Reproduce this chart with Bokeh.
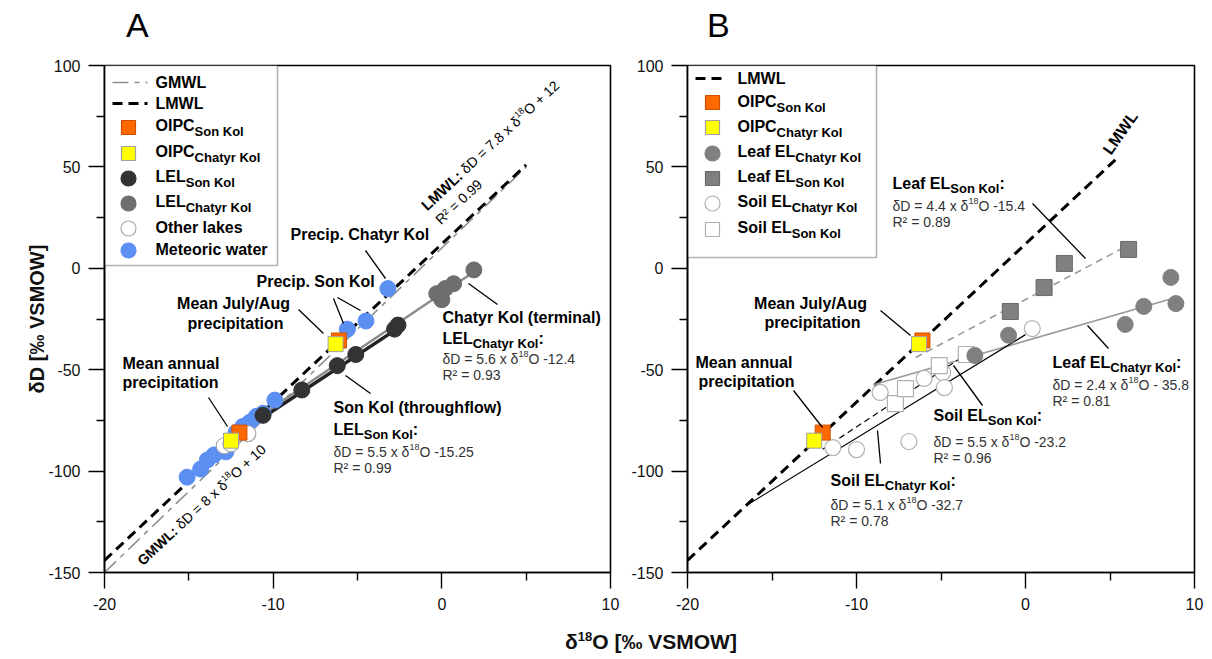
import math
from bokeh.plotting import figure
from bokeh.models import Label, BoxAnnotation, Div, Range1d, FixedTicker, PrintfTickFormatter
from bokeh.layouts import row, column
from bokeh.embed import file_html
from bokeh.resources import INLINE

FONT = "Liberation Sans"

# ---------------- Panel A data ----------------
meteoric_x = [-15.1, -14.3, -13.9, -13.5, -12.8, -12.2, -11.8, -11.4, -11.0, -10.6, -9.9, -5.6, -4.5, -3.2]
meteoric_y = [-103, -99, -94.5, -92, -90.5, -81, -78, -76, -73, -71.5, -65, -30, -26, -10]
lel_son_x = [-10.6, -8.3, -6.2, -5.1, -2.8, -2.6]
lel_son_y = [-72.5, -60, -48, -42.5, -30, -28]
lel_chatyr_x = [-0.3, 0.0, 0.2, 0.7, 1.9]
lel_chatyr_y = [-12.5, -15.5, -10, -7.6, -0.8]
other_x = [-12.9, -12.5, -11.5]
other_y = [-87.5, -86.5, -81.5]
oipc_son_x = [-12.0, -6.1]
oipc_son_y = [-81, -35.6]
oipc_chatyr_x = [-12.5, -6.3]
oipc_chatyr_y = [-85, -37.4]

# regression / meteoric water lines: slope, intercept, x extent
gmwl_slope, gmwl_int, gmwl_xA = 8.0, 10.0, [-20, 5]
lmwl_slope, lmwl_int, lmwl_xA = 7.8, 12.0, [-20, 5]
lel_son_slope, lel_son_int, lel_son_xl = 5.5, -15.25, [-12.8, -2.5]
lel_chat_slope, lel_chat_int, lel_chat_xl = 5.6, -12.4, [-12.0, 2.0]

# ---------------- Panel B data ----------------
leaf_son_x = [-0.9, 1.1, 2.3, 6.1]
leaf_son_y = [-21.3, -9.5, 2.4, 9.3]
leaf_chatyr_x = [-3.0, -1.0, 5.9, 7.0, 8.6, 8.9]
leaf_chatyr_y = [-43, -33, -27.7, -18.8, -4.5, -17.4]
soil_chatyr_x = [-11.4, -10.0, -8.6, -6.9, -6.0, -4.9, -4.8, 0.4]
soil_chatyr_y = [-88.4, -89.4, -61.2, -85.4, -54.3, -51.4, -58.8, -29.7]
soil_son_x = [-7.7, -7.1, -5.1, -3.5]
soil_son_y = [-66.7, -59.3, -48, -42.5]

lmwl_xB = [-20, 5.5]
leaf_son_slope, leaf_son_int, leaf_son_xl = 4.4, -15.4, [-6.5, 6.0]
leaf_chat_slope, leaf_chat_int, leaf_chat_xl = 2.4, -35.8, [-9.0, 9.0]
soil_chat_slope, soil_chat_int, soil_chat_xl = 5.1, -32.7, [-16.4, 0.0]
soil_son_slope, soil_son_int, soil_son_xl = 5.5, -23.2, [-12.0, -3.5]

X_TICKS = [-20, -10, 0, 10]
X_MINOR = [-15, -5, 5]
Y_TICKS = [-150, -100, -50, 0, 50, 100]
Y_MINOR = [-125, -75, -25, 25, 75]
XR = (-20, 10)
YR = (-150, 100)

def line_y(slope, intercept, xs):
    return [slope * x + intercept for x in xs]

# ---------------- styles ----------------
S_ORANGE = dict(marker="square", fill_color="#FF6A00", line_color="#D05000")
S_YELLOW = dict(marker="square", fill_color="#FFFF00", line_color="#A0A0A0")
S_DARK = dict(marker="circle", fill_color="#333333", line_color="#333333")
S_GRAY = dict(marker="circle", fill_color="#6E6E6E", line_color="#6E6E6E")
S_WHITE = dict(marker="circle", fill_color="white", line_color="#A8A8A8")
S_BLUE = dict(marker="circle", fill_color="#5C8FF2", line_color="#5C8FF2")
S_LEAF_C = dict(marker="circle", fill_color="#808080", line_color="#808080")
S_LEAF_S = dict(marker="square", fill_color="#808080", line_color="#6A6A6A")
S_SOIL_C = dict(marker="circle", fill_color="white", line_color="#B0B0B0")
S_SOIL_S = dict(marker="square", fill_color="white", line_color="#B0B0B0")

L_GMWL = dict(line_color="#8C8C8C", line_width=1.5, line_dash="16 6 5 6")
L_LMWL = dict(line_color="black", line_width=3, line_dash="10 6")
L_SON = dict(line_color="#222222", line_width=3.5)
L_CHAT = dict(line_color="#8C8C8C", line_width=2.5)
L_LEAF_S = dict(line_color="#9A9A9A", line_width=1.6, line_dash="7 5")
L_LEAF_C = dict(line_color="#9A9A9A", line_width=1.6)
L_SOIL_C = dict(line_color="black", line_width=1.2)
L_SOIL_S = dict(line_color="black", line_width=1.2, line_dash="6 4")

# ---------------- text metrics (Arial-like) ----------------
_REG = {' ': 278, '(': 333, ')': 333, '+': 584, '-': 333, '.': 278, '/': 278, ':': 278, '=': 584,
        '²': 333, 'δ': 556,
        'A': 667, 'B': 667, 'C': 722, 'D': 722, 'E': 667, 'F': 611, 'G': 778, 'H': 722, 'I': 278,
        'K': 667, 'L': 556, 'M': 833, 'N': 722, 'O': 778, 'P': 667, 'R': 722, 'S': 667, 'V': 667, 'W': 944,
        'a': 556, 'b': 556, 'c': 500, 'd': 556, 'e': 556, 'f': 278, 'g': 556, 'h': 556, 'i': 222,
        'k': 500, 'l': 222, 'm': 833, 'n': 556, 'o': 556, 'p': 556, 'r': 333, 's': 500, 't': 278,
        'u': 556, 'v': 500, 'w': 722, 'x': 500, 'y': 500}
_BOLD = {' ': 278, '(': 333, ')': 333, '-': 333, '.': 278, '/': 278, ':': 333,
         'A': 722, 'C': 722, 'D': 722, 'E': 667, 'G': 778, 'I': 278, 'K': 722, 'L': 611, 'M': 833,
         'O': 778, 'P': 667, 'S': 667, 'W': 944,
         'a': 556, 'c': 556, 'e': 556, 'f': 333, 'g': 611, 'h': 611, 'i': 278, 'k': 556, 'l': 278,
         'm': 889, 'n': 611, 'o': 611, 'p': 611, 'r': 389, 's': 556, 't': 333, 'u': 611, 'w': 778, 'y': 556}

def tw(s, size, bold):
    t = _BOLD if bold else _REG
    return sum(t.get(c, 556) for c in s) * size / 1000.0

# ---------------- figures ----------------
FA = dict(left=104, top=65, w=506, h=507)   # page pixel frame of panel A
FB = dict(left=687, top=65, w=507, h=507)   # page pixel frame of panel B

def d(F, px, py):
    x = XR[0] + (px - F["left"]) / F["w"] * (XR[1] - XR[0])
    y = YR[1] - (py - F["top"]) / F["h"] * (YR[1] - YR[0])
    return x, y

def make_fig(width, left, right):
    p = figure(width=width, height=575, x_range=Range1d(*XR), y_range=Range1d(*YR),
               output_backend="svg", toolbar_location=None,
               min_border_left=left, min_border_right=right, min_border_top=20, min_border_bottom=48)
    p.xgrid.visible = False
    p.ygrid.visible = False
    p.outline_line_color = "black"
    p.outline_line_width = 1.6
    p.outline_line_alpha = 1.0
    p.background_fill_color = "white"
    p.border_fill_color = "white"
    p.xaxis.ticker = FixedTicker(ticks=X_TICKS, minor_ticks=X_MINOR)
    p.yaxis.ticker = FixedTicker(ticks=Y_TICKS, minor_ticks=Y_MINOR)
    for ax in (p.xaxis[0], p.yaxis[0]):
        ax.formatter = PrintfTickFormatter(format="%d")
        ax.axis_line_color = "black"
        ax.axis_line_width = 1.6
        ax.major_tick_line_color = "black"
        ax.major_tick_line_width = 1.4
        ax.minor_tick_line_color = "black"
        ax.minor_tick_line_width = 1.4
        ax.major_tick_in = 0
        ax.major_tick_out = 16
        ax.minor_tick_in = 0
        ax.minor_tick_out = 8
        ax.major_label_text_font = FONT
        ax.major_label_text_font_size = "16px"
        ax.major_label_text_color = "#111111"
    p.xaxis.major_label_standoff = 9
    p.yaxis.major_label_standoff = 8
    return p

pA = make_fig(620, 104, 10)
pB = make_fig(592, 67, 18)

pA.yaxis.axis_label = "δD [‰ VSMOW]"
pA.yaxis.axis_label_text_font = FONT
pA.yaxis.axis_label_text_font_size = "20px"
pA.yaxis.axis_label_text_font_style = "bold"
pA.yaxis.axis_label_text_color = "#111111"
pA.yaxis.axis_label_standoff = -3

def txt(p, F, px, py, text, size=16, bold=True, align="left", angle=0.0, color="black"):
    x, y = d(F, px, py)
    p.add_layout(Label(x=x, y=y, text=text, text_font=FONT, text_font_size=f"{size}px",
                       text_font_style="bold" if bold else "normal", text_align=align,
                       text_baseline="middle", angle=angle, text_color=color))

def rich(p, F, px, py, pieces, angle_deg=0.0, color="black"):
    th = math.radians(angle_deg)
    ux, uy = math.cos(th), -math.sin(th)
    vx, vy = math.sin(th), math.cos(th)
    cur = 0.0
    for text, size, bold, dy in pieces:
        stripped = text.lstrip(" ")
        cur += tw(text[:len(text) - len(stripped)], size, bold)
        qx = px + ux * cur + vx * dy
        qy = py + uy * cur + vy * dy
        txt(p, F, qx, qy, stripped, size, bold, "left", th, color)
        cur += tw(stripped, size, bold)

def eq(p, F, px, py, a, b, size=14):
    rich(p, F, px, py, [(f"δD = {a} x δ", size, False, 0), ("18", 9, False, -5),
                        (f"O {b}", size, False, 0)], color="#333333")

def leaders(p, F, segs):
    x0, y0, x1, y1 = [], [], [], []
    for (a, b, c, e) in segs:
        xa, ya = d(F, a, b)
        xb, yb = d(F, c, e)
        x0.append(xa); y0.append(ya); x1.append(xb); y1.append(yb)
    p.segment(x0=x0, y0=y0, x1=x1, y1=y1, line_color="black", line_width=1.3)

def legend_box(p, F, l, t, r, b):
    x0, y0 = d(F, l, t)
    x1, y1 = d(F, r, b)
    p.add_layout(BoxAnnotation(left=x0, right=x1, top=y0, bottom=y1, fill_color="white", fill_alpha=1,
                               line_color="black", line_width=1.6, level="underlay"))

def leg_marker(p, F, px, py, style, size):
    x, y = d(F, px, py)
    p.scatter([x], [y], size=size, line_width=1.2, **style)

def leg_line(p, F, pxa, pxb, py, style):
    xa, y = d(F, pxa, py)
    xb, _ = d(F, pxb, py)
    p.line([xa, xb], [y, y], **style)

def leg_text(p, F, px, py, main, sub=""):
    txt(p, F, px, py - 2, main, 16, True)
    if sub:
        txt(p, F, px + tw(main, 16, True), py + 4, sub, 13, True)

# ================= Panel A =================
pA.line(gmwl_xA, line_y(gmwl_slope, gmwl_int, gmwl_xA), **L_GMWL)
pA.line(lmwl_xA, line_y(lmwl_slope, lmwl_int, lmwl_xA), **L_LMWL)
pA.line(lel_chat_xl, line_y(lel_chat_slope, lel_chat_int, lel_chat_xl), **L_CHAT)
pA.line(lel_son_xl, line_y(lel_son_slope, lel_son_int, lel_son_xl), **L_SON)

pA.scatter(meteoric_x, meteoric_y, size=16, line_width=1, **S_BLUE)
pA.scatter(lel_chatyr_x, lel_chatyr_y, size=16, line_width=1, **S_GRAY)
pA.scatter(lel_son_x, lel_son_y, size=16, line_width=1, **S_DARK)
pA.scatter(other_x, other_y, size=16, line_width=1.2, **S_WHITE)
pA.scatter(oipc_son_x, oipc_son_y, size=15, line_width=1, **S_ORANGE)
pA.scatter(oipc_chatyr_x, oipc_chatyr_y, size=15, line_width=1, **S_YELLOW)

leaders(pA, FA, [(365, 250, 385, 278), (333, 298, 343, 323), (337, 297, 360, 310),
                 (298, 309, 323, 333), (208, 397, 227, 426), (468, 283, 497, 304),
                 (345, 375, 370, 393)])

txt(pA, FA, 290, 234, "Precip. Chatyr Kol")
txt(pA, FA, 256, 281, "Precip. Son Kol")
txt(pA, FA, 233, 303, "Mean July/Aug", align="center")
txt(pA, FA, 235, 323, "precipitation", align="center")
txt(pA, FA, 122, 363, "Mean annual")
txt(pA, FA, 122, 382, "precipitation")

txt(pA, FA, 442, 317, "Chatyr Kol (terminal)")
rich(pA, FA, 442, 338, [("LEL", 16, True, 0), ("Chatyr Kol", 13, True, 5), (":", 16, True, 0)])
eq(pA, FA, 442, 358, "5.6", "-12.4")
txt(pA, FA, 442, 374, "R² = 0.93", 14, False, color="#333333")

txt(pA, FA, 333, 407, "Son Kol (throughflow)")
rich(pA, FA, 333, 429, [("LEL", 16, True, 0), ("Son Kol", 13, True, 5), (":", 16, True, 0)])
eq(pA, FA, 333, 451, "5.5", "-15.25")
txt(pA, FA, 333, 467, "R² = 0.99", 14, False, color="#333333")

rich(pA, FA, 423, 207, [("LMWL:", 15, True, 0), (" δD = 7.8 x δ", 14, False, 0),
                        ("18", 9, False, -4), ("O + 12", 14, False, 0)], angle_deg=43)
rich(pA, FA, 437, 221, [("R² = 0.99", 14, False, 0)], angle_deg=43)
rich(pA, FA, 139, 562, [("GMWL:", 14, True, 0), (" δD = 8 x δ", 14, False, 0),
                        ("18", 9, False, -4), ("O + 10", 14, False, 0)], angle_deg=43)

# legend A
legend_box(pA, FA, 104, 65, 277, 265)
leg_line(pA, FA, 112, 147, 82, L_GMWL)
leg_line(pA, FA, 112, 147, 103, L_LMWL)
leg_marker(pA, FA, 128, 127, S_ORANGE, 14)
leg_marker(pA, FA, 128, 153, S_YELLOW, 14)
leg_marker(pA, FA, 128, 178, S_DARK, 15)
leg_marker(pA, FA, 128, 203, S_GRAY, 15)
leg_marker(pA, FA, 128, 228, S_WHITE, 15)
leg_marker(pA, FA, 128, 250, S_BLUE, 15)
leg_text(pA, FA, 155, 84, "GMWL")
leg_text(pA, FA, 155, 105, "LMWL")
leg_text(pA, FA, 155, 127, "OIPC", "Son Kol")
leg_text(pA, FA, 155, 153, "OIPC", "Chatyr Kol")
leg_text(pA, FA, 155, 178, "LEL", "Son Kol")
leg_text(pA, FA, 155, 203, "LEL", "Chatyr Kol")
leg_text(pA, FA, 155, 229, "Other lakes")
leg_text(pA, FA, 155, 251, "Meteoric water")

# ================= Panel B =================
pB.line(lmwl_xB, line_y(lmwl_slope, lmwl_int, lmwl_xB), **L_LMWL)
pB.line(leaf_son_xl, line_y(leaf_son_slope, leaf_son_int, leaf_son_xl), **L_LEAF_S)
pB.line(leaf_chat_xl, line_y(leaf_chat_slope, leaf_chat_int, leaf_chat_xl), **L_LEAF_C)
pB.line(soil_chat_xl, line_y(soil_chat_slope, soil_chat_int, soil_chat_xl), **L_SOIL_C)
pB.line(soil_son_xl, line_y(soil_son_slope, soil_son_int, soil_son_xl), **L_SOIL_S)

pB.scatter(soil_chatyr_x, soil_chatyr_y, size=16, line_width=1.2, **S_SOIL_C)
pB.scatter(soil_son_x, soil_son_y, size=16, line_width=1.2, **S_SOIL_S)
pB.scatter(leaf_chatyr_x, leaf_chatyr_y, size=16, line_width=1, **S_LEAF_C)
pB.scatter(leaf_son_x, leaf_son_y, size=16, line_width=1, **S_LEAF_S)
pB.scatter(oipc_son_x, oipc_son_y, size=15, line_width=1, **S_ORANGE)
pB.scatter(oipc_chatyr_x, oipc_chatyr_y, size=15, line_width=1, **S_YELLOW)

leaders(pB, FB, [(1032, 203, 1085, 258), (880, 310, 910, 335), (793, 390, 822, 427),
                 (953, 365, 982, 405), (877, 430, 880, 463), (1087, 325, 1108, 348)])

rich(pB, FB, 1106, 152, [("LMWL", 16, True, 0)], angle_deg=55)

rich(pB, FB, 892, 183, [("Leaf EL", 16, True, 0), ("Son Kol", 13, True, 5), (":", 16, True, 0)])
eq(pB, FB, 892, 205, "4.4", "-15.4")
txt(pB, FB, 892, 221, "R² = 0.89", 14, False, color="#333333")

txt(pB, FB, 810, 303, "Mean July/Aug", align="center")
txt(pB, FB, 812, 322, "precipitation", align="center")
txt(pB, FB, 695, 362, "Mean annual")
txt(pB, FB, 698, 381, "precipitation")

rich(pB, FB, 933, 415, [("Soil EL", 16, True, 0), ("Son Kol", 13, True, 5), (":", 16, True, 0)])
eq(pB, FB, 933, 441, "5.5", "-23.2")
txt(pB, FB, 933, 457, "R² = 0.96", 14, False, color="#333333")

rich(pB, FB, 830, 480, [("Soil EL", 16, True, 0), ("Chatyr Kol", 13, True, 5), (":", 16, True, 0)])
eq(pB, FB, 830, 504, "5.1", "-32.7")
txt(pB, FB, 830, 520, "R² = 0.78", 14, False, color="#333333")

rich(pB, FB, 1052, 362, [("Leaf EL", 16, True, 0), ("Chatyr Kol", 13, True, 5), (":", 16, True, 0)])
eq(pB, FB, 1052, 384, "2.4", "- 35.8")
txt(pB, FB, 1052, 400, "R² = 0.81", 14, False, color="#333333")

# legend B
legend_box(pB, FB, 687, 65, 876, 257)
leg_line(pB, FB, 695, 724, 78, L_LMWL)
leg_marker(pB, FB, 712, 102, S_ORANGE, 14)
leg_marker(pB, FB, 712, 127, S_YELLOW, 14)
leg_marker(pB, FB, 712, 153, S_LEAF_C, 15)
leg_marker(pB, FB, 712, 178, S_LEAF_S, 14)
leg_marker(pB, FB, 712, 203, S_SOIL_C, 15)
leg_marker(pB, FB, 712, 229, S_SOIL_S, 14)
leg_text(pB, FB, 737, 80, "LMWL")
leg_text(pB, FB, 737, 103, "OIPC", "Son Kol")
leg_text(pB, FB, 737, 128, "OIPC", "Chatyr Kol")
leg_text(pB, FB, 737, 153, "Leaf EL", "Chatyr Kol")
leg_text(pB, FB, 737, 178, "Leaf EL", "Son Kol")
leg_text(pB, FB, 737, 203, "Soil EL", "Chatyr Kol")
leg_text(pB, FB, 737, 229, "Soil EL", "Son Kol")

panel_letters = Div(text='<div style="position: relative; width: 1212px; height: 45px; '
                         'font-family: \'Liberation Sans\', Arial, sans-serif; font-size: 34px; color: black;">'
                         '<span style="position: absolute; left: 126px; top: 1px;">A</span>'
                         '<span style="position: absolute; left: 707px; top: 1px;">B</span></div>',
                    width=1212, height=45, margin=(0, 0, 0, 0))

xlabel = Div(text='<div style="font-family: \'Liberation Sans\', Arial, sans-serif; font-weight: bold; '
                  'font-size: 21px; padding-left: 565px; padding-top: 7px; white-space: nowrap; color:#111;">'
                  'δ<sup style="font-size: 13px;">18</sup>O [‰ VSMOW]</div>',
             width=1212, height=39, margin=(0, 0, 0, 0))

layout = column(panel_letters, row(pA, pB, spacing=0), xlabel, spacing=0)

html = file_html(layout, INLINE, "Isotope plot")
with open("out.html", "w") as f:
    f.write(html)
